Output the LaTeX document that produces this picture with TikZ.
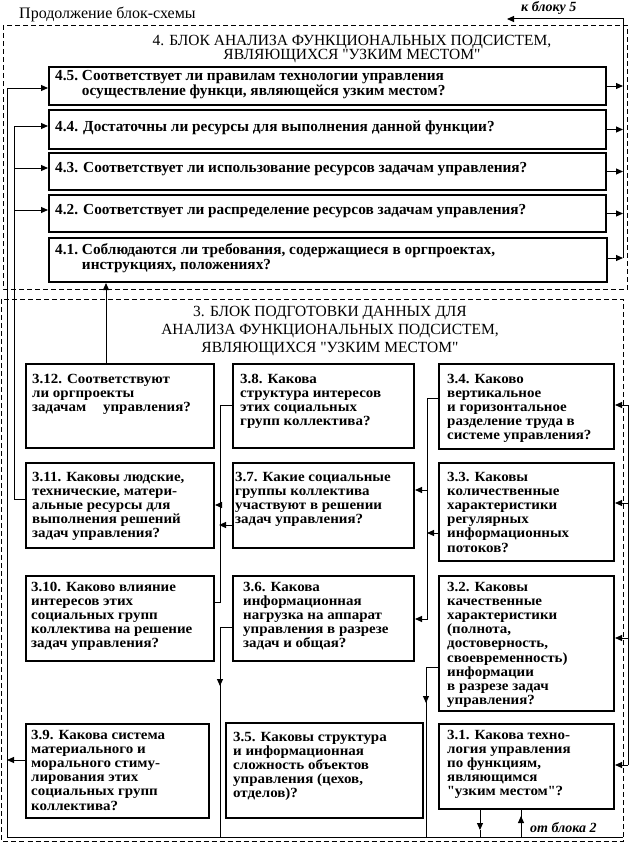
\documentclass[tikz,border=0pt]{standalone}
\usepackage{fontspec}
\setmainfont{Liberation Serif}
\newfontfamily\bxf{Liberation Serif}[FakeStretch=1.07]
\newcommand\sqreg{{\font\sqrf="Liberation Serif" at 15.5pt\sqrf\char34}}
\newcommand\sqbold{{\font\sqbf="Liberation Serif/B" at 14pt\sqbf\char34}}
\usetikzlibrary{arrows.meta,calc}
\begin{document}
\begin{tikzpicture}[x=1pt,y=-1pt,
 box/.style={draw,line width=2pt,inner sep=0pt,anchor=north west},
 tfour/.style={inner sep=0pt,anchor=west,font=\bfseries\fontsize{15.3}{15}\selectfont},
 tthree/.style={inner sep=0pt,anchor=north west,align=left,font=\bxf\bfseries\fontsize{14}{14.2}\selectfont},
 hdr/.style={inner sep=0pt,align=center,font=\fontsize{15.5}{14}\selectfont},
 lbl/.style={inner sep=0pt,font=\bfseries\itshape\fontsize{14}{14}\selectfont},
 conn/.style={line width=1pt},
 arr/.style={conn,-{Triangle[length=7pt,width=6pt]}},
 dframe/.style={line width=0.9pt,dash pattern=on 5pt off 3pt}]
\useasboundingbox (0,0) rectangle (629,843);

% frames
\draw[dframe] (3,25) rectangle (627.5,289);
\draw[dframe] (1.5,299) rectangle (623,841);

% titles
\node[inner sep=0pt,anchor=west,font=\fontsize{16}{16}\selectfont] (title) at (19,14) {Продолжение блок-схемы};
\node[lbl,anchor=west] (tok5) at (521,8) {к блоку 5};
\node[lbl,anchor=west] (fromb2) at (530,828) {от блока 2};
\node[hdr] (h4) at (352,49) {4. БЛОК АНАЛИЗА ФУНКЦИОНАЛЬНЫХ ПОДСИСТЕМ,\\ЯВЛЯЮЩИХСЯ \sqreg УЗКИМ МЕСТОМ\sqreg};
\node[hdr,font=\fontsize{15.5}{18}\selectfont] (h3) at (330,331) {3. БЛОК ПОДГОТОВКИ ДАННЫХ ДЛЯ\\АНАЛИЗА ФУНКЦИОНАЛЬНЫХ ПОДСИСТЕМ,\\ЯВЛЯЮЩИХСЯ \sqreg УЗКИМ МЕСТОМ\sqreg};

% block 4 boxes
\node[box,minimum width=557pt,minimum height=38pt] (b45) at (48,66) {};
\node[box,minimum width=557pt,minimum height=39pt] (b44) at (48,109) {};
\node[box,minimum width=557pt,minimum height=37pt] (b43) at (48,152) {};
\node[box,minimum width=557pt,minimum height=37pt] (b42) at (48,194) {};
\node[box,minimum width=558pt,minimum height=44pt] (b41) at (48,237) {};

\node[tfour] (t45) at ($(b45.west)+(7,-1)$) {\begin{tabular}{@{}l@{\ }l@{}}4.5.&Соответствует ли правилам технологии управления\\&осуществление функци, являющейся узким местом?\end{tabular}};
\node[tfour] (t44) at ($(b44.west)+(7,-2)$) {4.4. Достаточны ли ресурсы для выполнения данной функции?};
\node[tfour] (t43) at ($(b43.west)+(7,-2)$) {4.3. Соответствует ли использование ресурсов задачам управления?};
\node[tfour] (t42) at ($(b42.west)+(7,-2)$) {4.2. Соответствует ли распределение ресурсов задачам управления?};
\node[tfour] (t41) at ($(b41.west)+(7,-1)$) {\begin{tabular}{@{}l@{\ }l@{}}4.1.&Соблюдаются ли требования, содержащиеся в оргпроектах,\\&инструкциях, положениях?\end{tabular}};

% block 3 boxes
\node[box,minimum width=188pt,minimum height=84pt] (b312) at (25,363) {};
\node[box,minimum width=188pt,minimum height=85pt] (b311) at (25,462) {};
\node[box,minimum width=188pt,minimum height=85pt] (b310) at (25,575) {};
\node[box,minimum width=183pt,minimum height=94pt] (b39) at (25,723) {};
\node[box,minimum width=181pt,minimum height=84pt] (b38) at (232,363) {};
\node[box,minimum width=181pt,minimum height=85pt] (b37) at (232,462) {};
\node[box,minimum width=181pt,minimum height=85pt] (b36) at (232,575) {};
\node[box,minimum width=197pt,minimum height=95pt] (b35) at (225,722) {};
\node[box,minimum width=175pt,minimum height=85pt] (b34) at (438,363) {};
\node[box,minimum width=175pt,minimum height=98pt] (b33) at (438,462) {};
\node[box,minimum width=175pt,minimum height=135pt] (b32) at (438,575) {};
\node[box,minimum width=175pt,minimum height=85pt] (b31) at (438,723) {};

\node[tthree] (t312) at ($(b312.north west)+(7,10)$) {\strut 3.12. Соответствуют\\ли оргпроекты\\задачам\hspace{1.2em}управления?};
\node[tthree] (t311) at ($(b311.north west)+(7,9)$) {\strut 3.11. Каковы людские,\\технические, матери-\\альные ресурсы для\\выполнения решений\\задач управления?};
\node[tthree] (t310) at ($(b310.north west)+(6,6)$) {\strut 3.10. Каково влияние\\интересов этих\\социальных групп\\коллектива на решение\\задач управления?};
\node[tthree] (t39) at ($(b39.north west)+(6,6)$) {\strut 3.9. Какова система\\материального и\\морального стиму-\\лирования этих\\социальных групп\\коллектива?};
\node[tthree] (t38) at ($(b38.north west)+(8,10)$) {\strut 3.8. Какова\\структура интересов\\этих социальных\\групп коллектива?};
\node[tthree] (t37) at ($(b37.north west)+(3,9)$) {\strut 3.7. Какие социальные\\группы коллектива\\участвуют в решении\\задач управления?};
\node[tthree] (t36) at ($(b36.north west)+(11,6)$) {\strut 3.6. Какова\\информационная\\нагрузка на аппарат\\управления в разрезе\\задач и общая?};
\node[tthree] (t35) at ($(b35.north west)+(8,9)$) {\strut 3.5. Каковы структура\\и информационная\\сложность объектов\\управления (цехов,\\отделов)?};
\node[tthree] (t34) at ($(b34.north west)+(9,10)$) {\strut 3.4. Каково\\вертикальное\\и горизонтальное\\разделение труда в\\системе управления?};
\node[tthree] (t33) at ($(b33.north west)+(9,9)$) {\strut 3.3. Каковы\\количественные\\характеристики\\регулярных\\информационных\\потоков?};
\node[tthree] (t32) at ($(b32.north west)+(9,6)$) {\strut 3.2. Каковы\\качественные\\характеристики\\(полнота,\\достоверность,\\своевременность)\\информации\\в разрезе задач\\управления?};
\node[tthree] (t31) at ($(b31.north west)+(9,6)$) {\strut 3.1. Какова техно-\\логия управления\\по функциям,\\являющимся\\\sqbold узким местом\sqbold ?};

% coordinates
\coordinate (rTop) at (623,19);
\coordinate (rBot) at (623,258);
\coordinate (k5) at (507,19);
\coordinate (L1top) at (7,88);
\coordinate (L1bot) at (7,837);
\coordinate (Rbot) at (623,837);
\coordinate (y39) at (7,760);
\coordinate (L2top) at (14,126);
\coordinate (L2bot) at (14,499);
\coordinate (L2a) at (14,168);
\coordinate (L2b) at (14,210);
\coordinate (u312) at (106,300);
\coordinate (A1) at (220,405);
\coordinate (A2) at (220,602);
\coordinate (A3) at (220,505);
\coordinate (A4) at (219,525);
\coordinate (B1) at (220,627);
\coordinate (Bm) at (220,686);
\coordinate (B2) at (220,837);
\coordinate (C1) at (427,398);
\coordinate (C2) at (427,619);
\coordinate (C3) at (427,490);
\coordinate (C4) at (427,533);
\coordinate (D1) at (426,667);
\coordinate (Dm) at (426,703);
\coordinate (D2) at (426,837);
\coordinate (E1) at (480,837);
\coordinate (Em) at (480,830);
\coordinate (F1) at (521,837);
\coordinate (Fm) at (521,816);
\coordinate (R1) at (628,405);
\coordinate (R2) at (628,765);
\coordinate (R3) at (628,503);
\coordinate (R4) at (628,638);

% block 4 right bus
\draw[arr] (rBot) -- (rTop) -- (k5);
\foreach \b in {b45,b44,b43,b42}{\draw[arr] (\b.east) -- (\b.east -| rTop);}
\draw[arr] (b41.east |- rBot) -- (rBot);

% left buses
\draw[arr] (Rbot) -- (L1bot) -- (L1top) -- (L1top -| b45.west);
\draw[arr] (b39.west |- y39) -- (y39);
\draw[arr] (b311.west |- L2bot) -- (L2bot) -- (L2top) -- (L2top -| b44.west);
\draw[arr] (L2a) -- (L2a -| b43.west);
\draw[arr] (L2b) -- (L2b -| b42.west);
\draw[arr] (b312.north -| u312) -- (b41.south -| u312);

% bus A
\draw[conn] (A1 -| b38.west) -- (A1) -- (A2) -- (A2 -| b310.east);
\draw[arr] (A3) -- (A3 -| b311.east);
\draw[arr] (A4 -| b37.west) -- (A4);
% bus B
\draw[conn] (B1 -| b36.west) -- (B1) -- (B2);
\draw[arr] (B1) -- (Bm);
% bus C
\draw[arr] (C1 -| b34.west) -- (C1) -- (C2) -- (C2 -| b36.east);
\draw[arr] (C3) -- (C3 -| b37.east);
\draw[arr] (C4 -| b33.west) -- (C4);
% bus D
\draw[conn] (D1 -| b32.west) -- (D1) -- (D2);
\draw[arr] (D1) -- (Dm);
% 3.1 bottom
\draw[arr] (b31.south -| E1) -- (Em);
\draw[conn] (Em) -- (E1);
\draw[conn] (F1) -- (b31.south -| F1);
\draw[arr] (F1) -- (Fm);
% right bus of block 3
\draw[conn] (R1) -- (R2);
\draw[arr] (R1) -- (R1 -| b34.east);
\draw[arr] (R3) -- (R3 -| b33.east);
\draw[arr] (R4) -- (R4 -| b32.east);
\draw[arr] (R2) -- (R2 -| b31.east);
\end{tikzpicture}
\end{document}
